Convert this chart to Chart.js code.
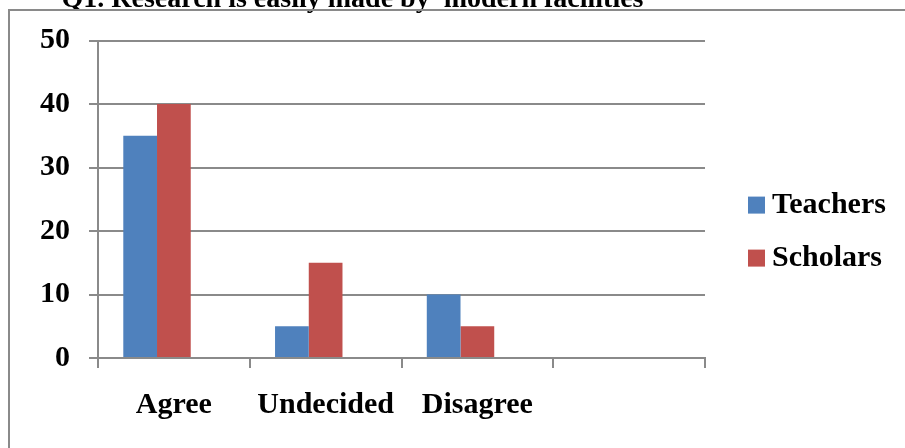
<!DOCTYPE html>
<html>
<head>
<meta charset="utf-8">
<script src="https://cdn.jsdelivr.net/npm/chart.js@4.4.1/dist/chart.umd.min.js"></script>
<style>
  html, body { margin: 0; padding: 0; background: #ffffff; overflow: hidden; }
  body { width: 905px; height: 448px; position: relative; }
  #chart { position: absolute; left: 0; top: -30px; }
  #frame { position: absolute; left: 8px; top: 9px; width: 1000px; height: 1000px;
           border: 2px solid #8a8a8a; box-sizing: border-box; pointer-events: none; }
</style>
</head>
<body>
<canvas id="chart" width="905" height="478"></canvas>
<div id="frame"></div>
<script>
const titleText = 'Q1. Research is easily made by  modern facilities';
const categories = ['Agree', 'Undecided', 'Disagree', ''];
const teachers = [35, 5, 10, null];
const scholars = [40, 15, 5, null];
const series3 = [null, null, null, null];
const yTicks = [0, 10, 20, 30, 40, 50];

const FONT = "'Liberation Serif', 'Times New Roman', serif";
const GRID = '#8a8a8a';

// Legend drawn at the right of the plot: square swatch plus bold label.
const sideLegend = {
  id: 'sideLegend',
  afterDraw(chart) {
    const ctx = chart.ctx;
    const area = chart.chartArea;
    const items = chart.data.datasets.filter(d => d.label && d.showInLegend);
    const x0 = area.right + 43;
    const y0 = area.top + 156;
    const step = 53;
    ctx.save();
    ctx.font = 'bold 30px ' + FONT;
    ctx.textBaseline = 'middle';
    ctx.textAlign = 'left';
    items.forEach((d, i) => {
      const y = y0 + i * step;
      ctx.fillStyle = d.backgroundColor;
      ctx.fillRect(x0, y, 17, 17);
      ctx.fillStyle = '#000000';
      ctx.fillText(d.label, x0 + 24, y + 8.5);
    });
    ctx.restore();
  }
};

new Chart(document.getElementById('chart'), {
  type: 'bar',
  data: {
    labels: categories,
    datasets: [
      { label: 'Teachers', data: teachers, backgroundColor: '#4F81BD', showInLegend: true },
      { label: 'Scholars', data: scholars, backgroundColor: '#C0504D', showInLegend: true },
      { label: 'Series3', data: series3, backgroundColor: '#9BBB59', showInLegend: false }
    ]
  },
  options: {
    responsive: false,
    animation: false,
    devicePixelRatio: 1,
    layout: { padding: { left: 0, right: 200, top: 0, bottom: 0 } },
    datasets: { bar: { categoryPercentage: 3 / 4.5, barPercentage: 1.0, borderWidth: 0 } },
    plugins: {
      legend: { display: false },
      tooltip: { enabled: false },
      title: {
        display: true,
        text: titleText,
        color: '#000000',
        font: { family: FONT, size: 28, weight: 'bold', lineHeight: 1.2 },
        padding: { top: 13, bottom: 24 }
      }
    },
    scales: {
      x: {
        grid: { display: true, drawOnChartArea: false, drawTicks: true, tickLength: 10,
                offset: true, color: GRID, lineWidth: 2 },
        border: { display: true, color: GRID, width: 2 },
        ticks: { color: '#000000', padding: 19, maxRotation: 0, autoSkip: false,
                 font: { family: FONT, size: 30, weight: 'bold' } },
        afterFit(s) { s.height = 90; }
      },
      y: {
        min: 0, max: 50,
        afterBuildTicks(s) { s.ticks = yTicks.map(v => ({ value: v })); },
        grid: { color: GRID, lineWidth: 2, drawTicks: true, tickLength: 9 },
        border: { display: true, color: GRID, width: 2 },
        ticks: { color: '#000000', padding: 19,
                 font: { family: FONT, size: 30, weight: 'bold' } },
        afterFit(s) { s.width = 98; }
      }
    }
  },
  plugins: [sideLegend]
});
</script>
</body>
</html>
